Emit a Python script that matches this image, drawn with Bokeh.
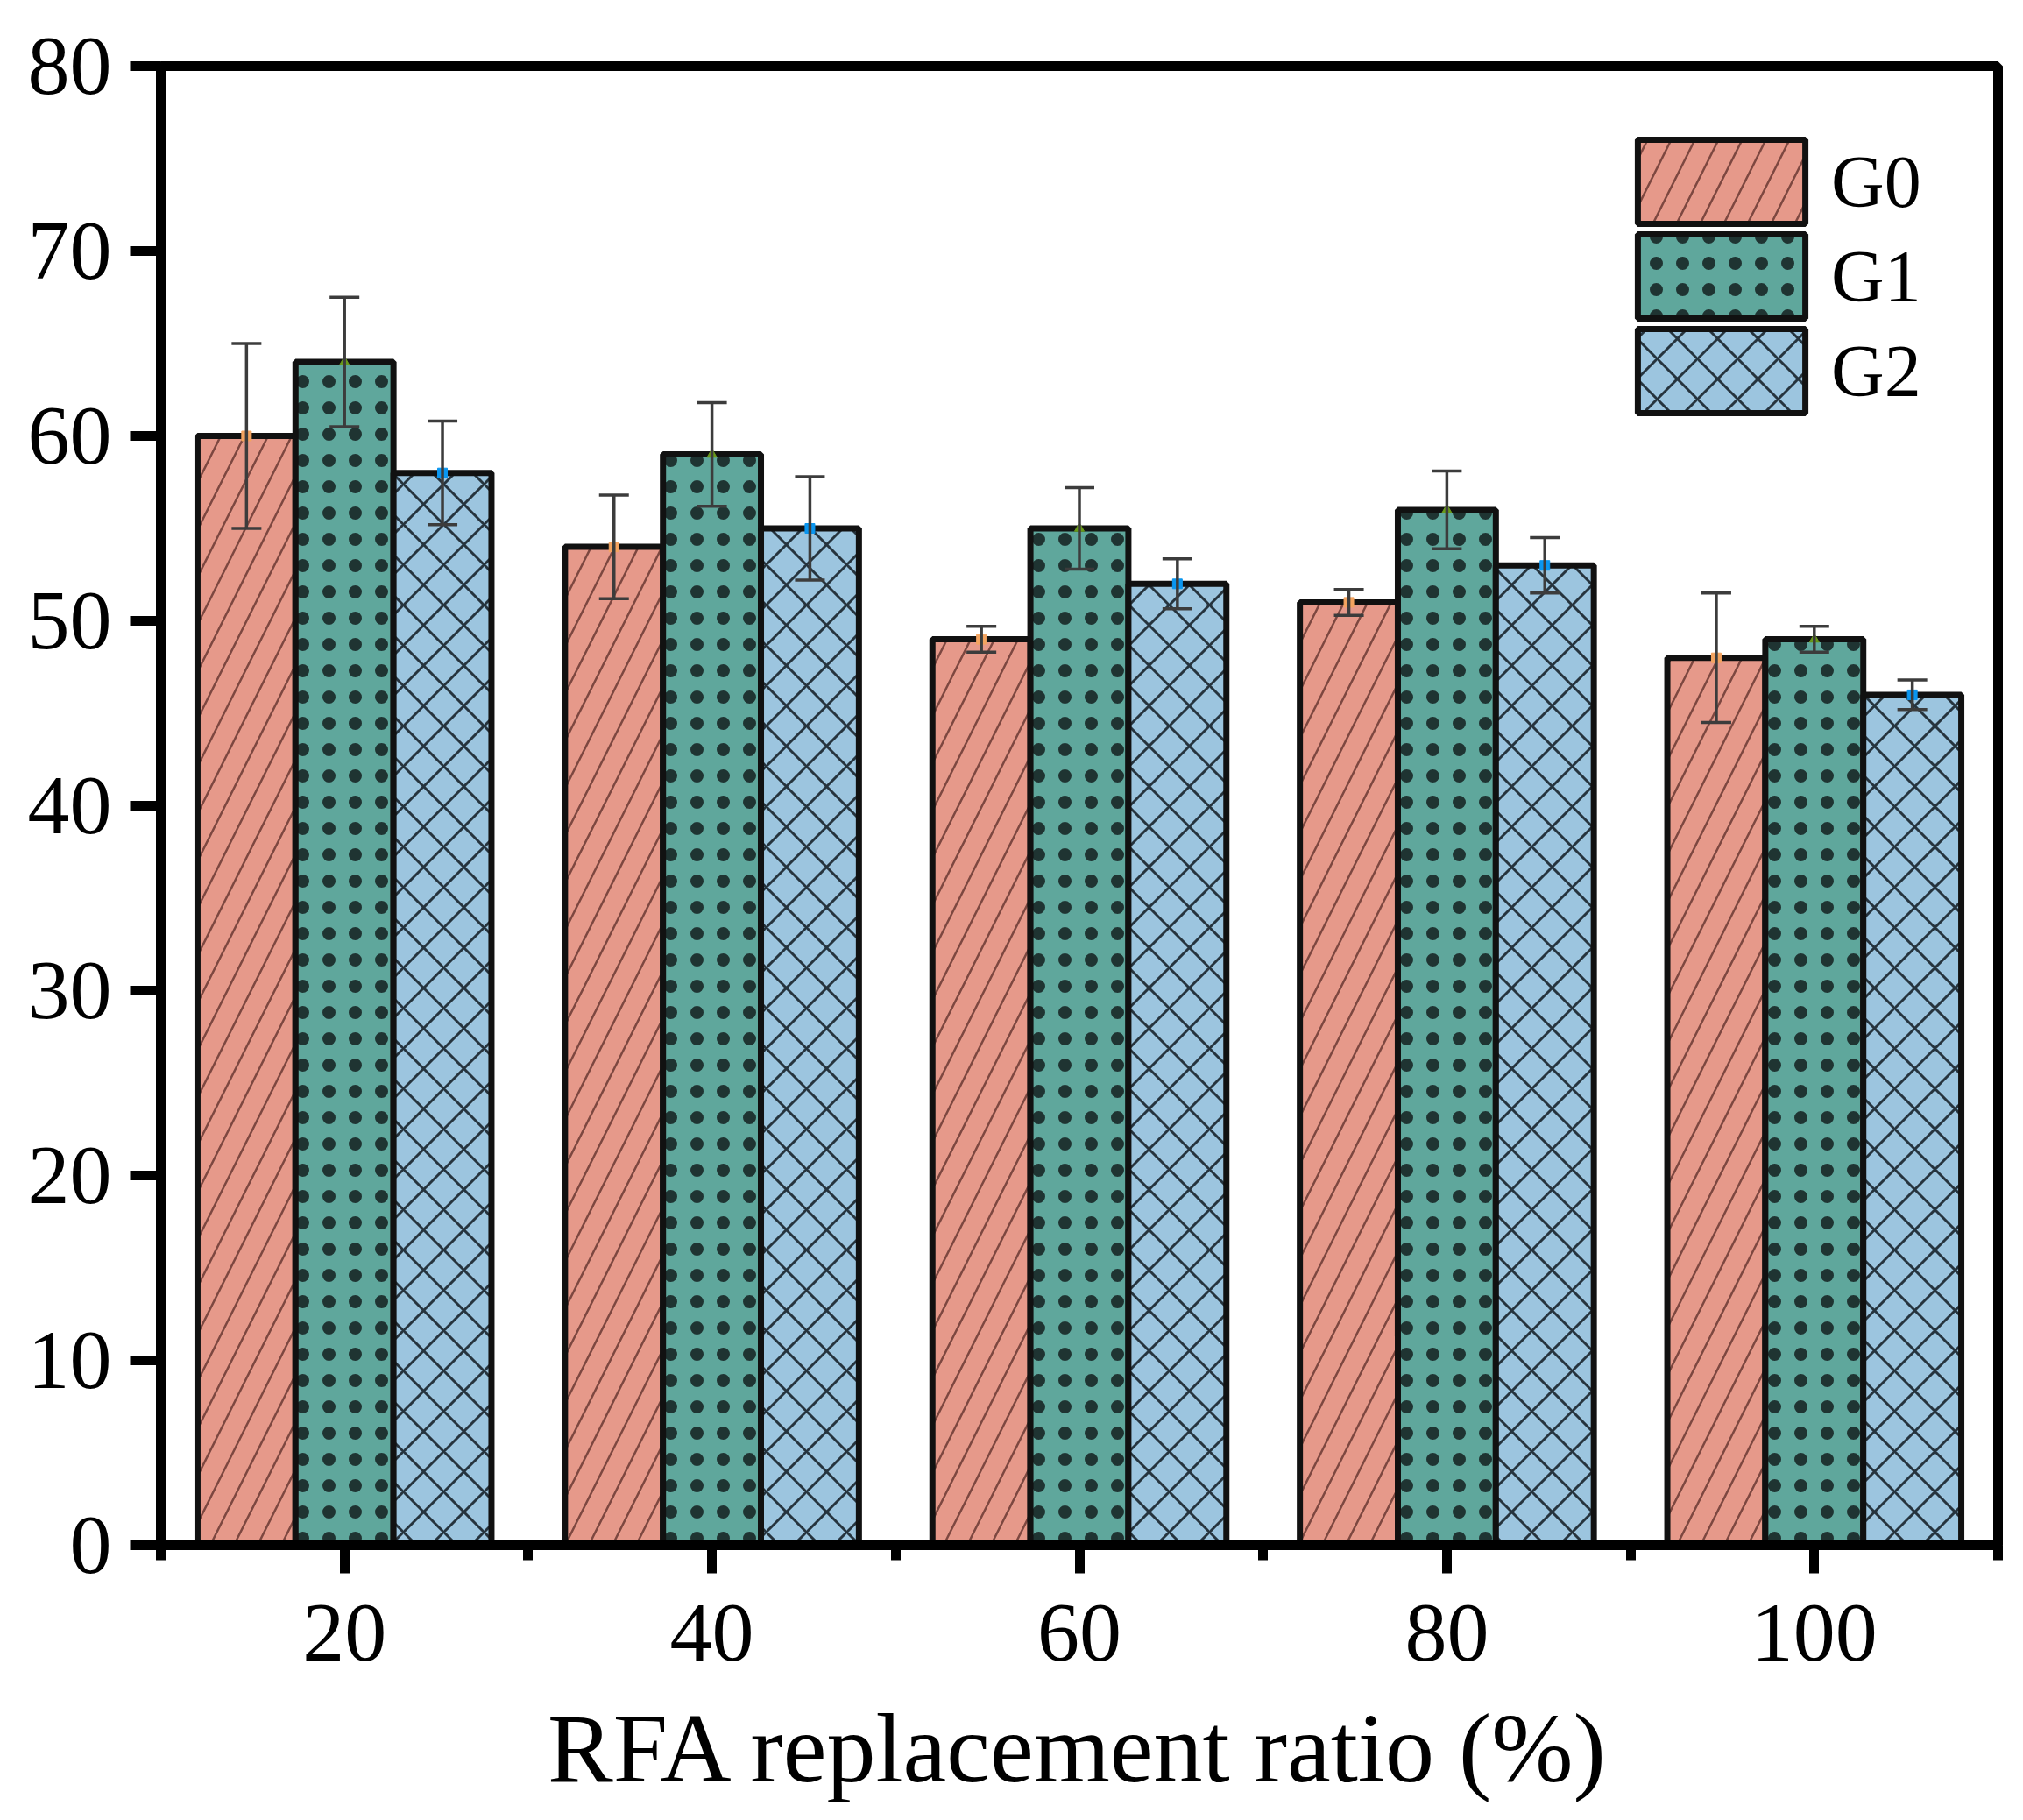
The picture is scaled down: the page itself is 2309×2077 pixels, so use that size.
from bokeh.plotting import figure
from bokeh.models import (ColumnDataSource, Whisker, TeeHead, FixedTicker, Legend, LegendItem, Range1d)
from bokeh.embed import file_html
from bokeh.resources import INLINE

# ---- data ----
ratios = [20, 40, 60, 80, 100]
g0 = [60, 54, 49, 51, 48]
g0_err = [5.0, 2.8, 0.7, 0.7, 3.5]
g1 = [64, 59, 55, 56, 49]
g1_err = [3.5, 2.8, 2.2, 2.1, 0.7]
g2 = [58, 55, 52, 53, 46]
g2_err = [2.8, 2.8, 1.35, 1.5, 0.8]
series_names = ["G0", "G1", "G2"]
y_ticks = [0, 10, 20, 30, 40, 50, 60, 70, 80]
x_minor = [10, 30, 50, 70, 90, 110]

FONT = "Liberation Serif"
bar_w = 16.0 / 3.0

p = figure(frame_width=2097, frame_height=1688, output_backend="svg", toolbar_location=None,
           x_range=Range1d(10, 110), y_range=Range1d(0, 80),
           min_border_left=183, min_border_top=75, min_border_right=21, min_border_bottom=10)
p.background_fill_color = "white"
p.border_fill_color = "white"
p.grid.visible = False
p.outline_line_color = "black"
p.outline_line_width = 11

fills = ["#E6998A", "#5FA79C", "#9CC5DF"]
hatches = ["/", ".", "x"]
hatch_cols = ["#7d4740", "#142020", "#26343e"]
hatch_scales = [54, 30, 46]
hatch_weights = [2.5, 2.0, 3]
hatch_alphas = [1.0, 0.85, 1.0]
mark_cols = ["#F4A460", "#6A9A1A", "#0A96F0"]
mark_types = ["square", "triangle", "square"]
vals = [g0, g1, g2]
errs = [g0_err, g1_err, g2_err]
offsets = [-bar_w, 0.0, bar_w]

renderers = []
for i in range(3):
    xs = [r + offsets[i] for r in ratios]
    src = ColumnDataSource(dict(x=xs, top=vals[i],
                                up=[v + e for v, e in zip(vals[i], errs[i])],
                                lo=[v - e for v, e in zip(vals[i], errs[i])]))
    r = p.vbar(x="x", top="top", bottom=0, width=bar_w, source=src,
               fill_color=fills[i], line_color="#111111", line_width=7,
               hatch_pattern=hatches[i], hatch_color=hatch_cols[i], hatch_alpha=hatch_alphas[i],
               hatch_scale=hatch_scales[i], hatch_weight=hatch_weights[i])
    renderers.append((r, src))

for i, (r, src) in enumerate(renderers):
    p.scatter(x="x", y="top", source=src, marker=mark_types[i], size=11,
              fill_color=mark_cols[i], line_color=mark_cols[i])
    w = Whisker(base="x", upper="up", lower="lo", source=src, dimension="height",
                line_color="#3c3c3c", line_width=3.5, level="overlay",
                upper_head=TeeHead(size=34, line_color="#3c3c3c", line_width=3.5),
                lower_head=TeeHead(size=34, line_color="#3c3c3c", line_width=3.5))
    p.add_layout(w)

# axes
for ax in (p.xaxis[0], p.yaxis[0]):
    ax.axis_line_width = 11
    ax.axis_line_color = "black"
    ax.major_tick_line_width = 11
    ax.major_tick_line_color = "black"
    ax.minor_tick_line_width = 11
    ax.minor_tick_line_color = "black"
    ax.major_tick_in = 0
    ax.minor_tick_in = 0
    ax.major_label_text_font = FONT
    ax.major_label_text_font_size = "96px"
    ax.major_label_text_color = "black"

p.yaxis.ticker = FixedTicker(ticks=y_ticks, minor_ticks=[])
p.yaxis.major_tick_out = 35
p.yaxis.major_label_standoff = 21

p.xaxis.ticker = FixedTicker(ticks=ratios, minor_ticks=x_minor)
p.xaxis.major_tick_out = 32
p.xaxis.minor_tick_out = 17
p.xaxis.major_label_standoff = 36
p.xaxis.axis_label = "RFA replacement ratio (%)"
p.xaxis.axis_label_text_font = FONT
p.xaxis.axis_label_text_font_size = "112px"
p.xaxis.axis_label_text_font_style = "normal"
p.xaxis.axis_label_text_color = "black"
p.xaxis.axis_label_standoff = 35

# one legend per entry so that the boxes sit close together
for i in range(3):
    leg = Legend(items=[LegendItem(label=series_names[i], renderers=[renderers[i][0]])],
                 location=(1662, 1496 - 108 * i), padding=0, margin=0, spacing=0,
                 glyph_width=239, glyph_height=120, label_standoff=6,
                 label_text_font=FONT, label_text_font_size="84px", label_text_color="black",
                 border_line_alpha=0, background_fill_alpha=0)
    p.add_layout(leg, "center")

open("out.html", "w").write(file_html(p, INLINE))
